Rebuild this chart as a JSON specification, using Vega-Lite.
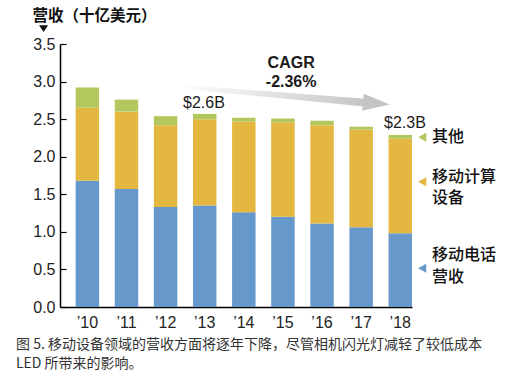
{
  "$schema": "https://vega.github.io/schema/vega-lite/v6.json",
  "width": 352,
  "height": 263,
  "autosize": {"type": "none"},
  "padding": {"left": 60, "top": 44, "right": 115, "bottom": 71},
  "background": "white",
  "config": {"view": {"stroke": null}, "font": "Liberation Sans", "axisY": {"labelOverlap": false}},
  "title": {
    "text": ["图 5. 移动设备领域的营收方面将逐年下降，尽管相机闪光灯减轻了较低成本", "LED 所带来的影响。"],
    "orient": "bottom",
    "anchor": "start",
    "frame": "group",
    "dx": -44,
    "offset": 8,
    "font": "Noto Sans CJK SC",
    "fontSize": 14,
    "fontWeight": "normal",
    "color": "#333333",
    "lineHeight": 19
  },
  "datasets": {
    "bars": [
      {"year": "’10", "cat": "移动电话营收", "o": 1, "value": 1.68},
      {"year": "’10", "cat": "移动计算设备", "o": 2, "value": 0.97},
      {"year": "’10", "cat": "其他", "o": 3, "value": 0.27},
      {"year": "’11", "cat": "移动电话营收", "o": 1, "value": 1.57},
      {"year": "’11", "cat": "移动计算设备", "o": 2, "value": 1.03},
      {"year": "’11", "cat": "其他", "o": 3, "value": 0.16},
      {"year": "’12", "cat": "移动电话营收", "o": 1, "value": 1.33},
      {"year": "’12", "cat": "移动计算设备", "o": 2, "value": 1.09},
      {"year": "’12", "cat": "其他", "o": 3, "value": 0.12},
      {"year": "’13", "cat": "移动电话营收", "o": 1, "value": 1.35},
      {"year": "’13", "cat": "移动计算设备", "o": 2, "value": 1.15},
      {"year": "’13", "cat": "其他", "o": 3, "value": 0.07},
      {"year": "’14", "cat": "移动电话营收", "o": 1, "value": 1.26},
      {"year": "’14", "cat": "移动计算设备", "o": 2, "value": 1.21},
      {"year": "’14", "cat": "其他", "o": 3, "value": 0.05},
      {"year": "’15", "cat": "移动电话营收", "o": 1, "value": 1.20},
      {"year": "’15", "cat": "移动计算设备", "o": 2, "value": 1.26},
      {"year": "’15", "cat": "其他", "o": 3, "value": 0.05},
      {"year": "’16", "cat": "移动电话营收", "o": 1, "value": 1.11},
      {"year": "’16", "cat": "移动计算设备", "o": 2, "value": 1.31},
      {"year": "’16", "cat": "其他", "o": 3, "value": 0.06},
      {"year": "’17", "cat": "移动电话营收", "o": 1, "value": 1.06},
      {"year": "’17", "cat": "移动计算设备", "o": 2, "value": 1.30},
      {"year": "’17", "cat": "其他", "o": 3, "value": 0.04},
      {"year": "’18", "cat": "移动电话营收", "o": 1, "value": 0.98},
      {"year": "’18", "cat": "移动计算设备", "o": 2, "value": 1.26},
      {"year": "’18", "cat": "其他", "o": 3, "value": 0.05}
    ],
    "valueLabels": [
      {"text": "$2.6B", "ax": 3.68, "v": 2.71},
      {"text": "$2.3B", "ax": 8.82, "v": 2.45}
    ],
    "cagr": [
      {"text": "CAGR", "ax": 5.91, "v": 3.25},
      {"text": "-2.36%", "ax": 5.91, "v": 3.0}
    ],
    "legendLabels": [
      {"text": ["其他"], "ax": 9.51, "v": 2.266},
      {"text": ["移动计算", "设备"], "ax": 9.51, "v": 1.734},
      {"text": ["移动电话", "营收"], "ax": 9.51, "v": 0.692}
    ],
    "legendMarks": [
      {"cat": "其他", "ax": 9.26, "v": 2.258},
      {"cat": "移动计算设备", "ax": 9.26, "v": 1.668},
      {"cat": "移动电话营收", "ax": 9.26, "v": 0.515}
    ],
    "arrow": [
      {"ax": 3.12, "v": 2.93},
      {"ax": 7.8, "v": 2.72}
    ],
    "arrowHead": [{"ax": 8.09, "v": 2.71}],
    "unitMark": [{"ax": -0.42, "v": 3.706}]
  },
  "layer": [
    {
      "data": {"name": "bars"},
      "mark": {"type": "bar"},
      "encoding": {
        "x": {
          "field": "year", "type": "ordinal", "sort": null,
          "scale": {"paddingInner": 0.4, "paddingOuter": 0.2, "align": 1},
          "axis": {
            "title": null, "labelAngle": 0, "ticks": false,
            "domainColor": "#000000", "domainWidth": 1.5,
            "labelFontSize": 16, "labelColor": "#222222", "labelPadding": 7,
            "labelFont": "Liberation Sans"
          }
        },
        "y": {
          "field": "value", "type": "quantitative", "stack": "zero",
          "scale": {"domain": [0, 3.5], "nice": false},
          "axis": {
            "title": "营收（十亿美元）",
            "titleAngle": 0, "titleAlign": "left", "titleBaseline": "middle",
            "titleX": -28, "titleY": -29,
            "titleFont": "Noto Sans CJK SC", "titleFontSize": 15.5, "titleFontWeight": "bold", "titleColor": "#111111",
            "values": [0, 0.5, 1, 1.5, 2, 2.5, 3, 3.5], "format": ".1f", "tickCount": 8,
            "labelOverlap": false,
            "grid": false, "domainColor": "#000000", "domainWidth": 1.5,
            "tickColor": "#000000", "tickSize": -6, "tickWidth": 1.2,
            "labelFontSize": 16, "labelColor": "#222222", "labelPadding": 11,
            "labelFont": "Liberation Sans"
          }
        },
        "color": {
          "field": "cat", "type": "nominal",
          "scale": {"domain": ["移动电话营收", "移动计算设备", "其他"], "range": ["#6698cc", "#e4b740", "#b2c85e"]},
          "legend": null
        },
        "order": {"field": "o", "type": "quantitative"}
      }
    },
    {
      "data": {"name": "arrow"},
      "mark": {
        "type": "trail",
        "color": {"gradient": "linear", "x1": 0, "y1": 0, "x2": 1, "y2": 0,
          "stops": [{"offset": 0, "color": "#ffffff"}, {"offset": 1, "color": "#c4c4c4"}]}
      },
      "encoding": {
        "x": {"field": "ax", "type": "quantitative", "scale": {"domain": [0, 9], "nice": false, "zero": false}, "axis": null},
        "y": {"field": "v", "type": "quantitative", "scale": {"domain": [0, 3.5], "nice": false}},
        "size": {"field": "ax", "type": "quantitative", "scale": {"domain": [3.12, 7.8], "range": [4, 8]}, "legend": null}
      }
    },
    {
      "data": {"name": "arrowHead"},
      "mark": {"type": "point", "shape": "M -1 -0.63 L 1 0 L -1 0.63 Z", "size": 729, "filled": true, "color": "#c4c4c4", "opacity": 1, "angle": 5},
      "encoding": {
        "x": {"field": "ax", "type": "quantitative", "scale": {"domain": [0, 9], "nice": false, "zero": false}, "axis": null},
        "y": {"field": "v", "type": "quantitative", "scale": {"domain": [0, 3.5], "nice": false}}
      }
    },
    {
      "data": {"name": "unitMark"},
      "mark": {"type": "point", "shape": "M -1 -0.75 L 1 -0.75 L 0 0.8 Z", "size": 81, "filled": true, "color": "#111111", "opacity": 1},
      "encoding": {
        "x": {"field": "ax", "type": "quantitative", "scale": {"domain": [0, 9], "nice": false, "zero": false}, "axis": null},
        "y": {"field": "v", "type": "quantitative", "scale": {"domain": [0, 3.5], "nice": false}}
      }
    },
    {
      "data": {"name": "legendMarks"},
      "mark": {"type": "point", "shape": "M -0.9 0 L 0.9 -1 L 0.9 1 Z", "size": 81, "filled": true, "opacity": 1},
      "encoding": {
        "x": {"field": "ax", "type": "quantitative", "scale": {"domain": [0, 9], "nice": false, "zero": false}, "axis": null},
        "y": {"field": "v", "type": "quantitative", "scale": {"domain": [0, 3.5], "nice": false}},
        "color": {"field": "cat", "type": "nominal", "legend": null}
      }
    },
    {
      "data": {"name": "valueLabels"},
      "mark": {"type": "text", "font": "Liberation Sans", "fontSize": 16, "color": "#1a1a1a", "align": "center", "baseline": "middle"},
      "encoding": {
        "x": {"field": "ax", "type": "quantitative", "scale": {"domain": [0, 9], "nice": false, "zero": false}, "axis": null},
        "y": {"field": "v", "type": "quantitative", "scale": {"domain": [0, 3.5], "nice": false}},
        "text": {"field": "text"}
      }
    },
    {
      "data": {"name": "cagr"},
      "mark": {"type": "text", "font": "Liberation Sans", "fontSize": 16, "fontWeight": "bold", "color": "#1a1a1a", "align": "center", "baseline": "middle"},
      "encoding": {
        "x": {"field": "ax", "type": "quantitative", "scale": {"domain": [0, 9], "nice": false, "zero": false}, "axis": null},
        "y": {"field": "v", "type": "quantitative", "scale": {"domain": [0, 3.5], "nice": false}},
        "text": {"field": "text"}
      }
    },
    {
      "data": {"name": "legendLabels"},
      "mark": {"type": "text", "font": "Noto Sans CJK SC", "fontSize": 16, "fontWeight": 500, "color": "#111111", "align": "left", "baseline": "middle", "lineHeight": 21.5},
      "encoding": {
        "x": {"field": "ax", "type": "quantitative", "scale": {"domain": [0, 9], "nice": false, "zero": false}, "axis": null},
        "y": {"field": "v", "type": "quantitative", "scale": {"domain": [0, 3.5], "nice": false}},
        "text": {"field": "text"}
      }
    }
  ],
  "resolve": {"scale": {"x": "independent"}}
}
